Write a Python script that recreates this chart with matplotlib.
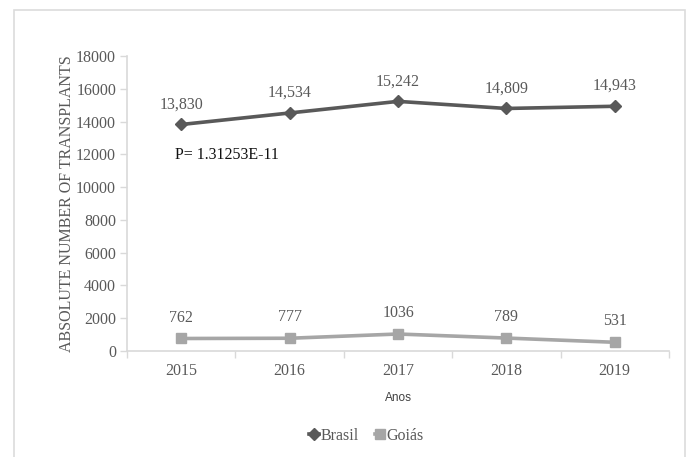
import matplotlib
matplotlib.use("Agg")
import matplotlib.pyplot as plt
from matplotlib.patches import Rectangle
from matplotlib.lines import Line2D

years = ["2015", "2016", "2017", "2018", "2019"]
brasil = [13830, 14534, 15242, 14809, 14943]
goias = [762, 777, 1036, 789, 531]
brasil_labels = ["13,830", "14,534", "15,242", "14,809", "14,943"]
goias_labels = ["762", "777", "1036", "789", "531"]
yticks = [0, 2000, 4000, 6000, 8000, 10000, 12000, 14000, 16000, 18000]

serif = "Liberation Serif"
tick_col = "#595959"
axis_col = "#d9d9d9"
c_brasil = "#595959"
c_goias = "#a6a6a6"

fig = plt.figure(figsize=(6.91, 4.57), dpi=100)
ax = fig.add_axes([0.184, 0.232, 0.784, 0.645])

# outer chart frame
fig.patches.append(Rectangle((14 / 691, -0.05), (685 - 14) / 691, 1.05 - 10 / 457,
                             transform=fig.transFigure, fill=False,
                             edgecolor="#dcdcdc", linewidth=1.2))

x = list(range(len(years)))
ax.plot(x, brasil, color=c_brasil, linewidth=2.6, marker="D", markersize=6.5,
        markeredgecolor=c_brasil, label="Brasil", zorder=3)
ax.plot(x, goias, color=c_goias, linewidth=2.6, marker="s", markersize=7.5,
        markeredgecolor=c_goias, label="Goiás", zorder=3)

for xi, v, t in zip(x, brasil, brasil_labels):
    ax.annotate(t, (xi, v), xytext=(0, 14.5), textcoords="offset points",
                ha="center", va="center", fontsize=11.5, family=serif, color=tick_col)
for xi, v, t in zip(x, goias, goias_labels):
    ax.annotate(t, (xi, v), xytext=(0, 15), textcoords="offset points",
                ha="center", va="center", fontsize=11.5, family=serif, color=tick_col)

ax.text(0.089, 0.664, "P= 1.31253E-11", transform=ax.transAxes, ha="left",
        va="center", fontsize=11.5, family=serif, color="#111111")

ax.set_xlim(-0.5, len(years) - 0.5)
ax.set_ylim(0, 18000)
ax.set_yticks(yticks)
ax.set_yticklabels([str(v) for v in yticks], family=serif, fontsize=11.5, color=tick_col)
ax.set_xticks(x)
ax.set_xticklabels(years, family=serif, fontsize=11.5, color=tick_col)
ax.set_xticks([i - 0.5 for i in range(len(years) + 1)], minor=True)
ax.tick_params(axis="x", which="major", length=0, pad=9)
ax.tick_params(axis="x", which="minor", length=5, color=axis_col, width=1)
ax.tick_params(axis="y", length=5, color=axis_col, width=1, pad=3)

for s in ["top", "right"]:
    ax.spines[s].set_visible(False)
for s in ["left", "bottom"]:
    ax.spines[s].set_color(axis_col)
    ax.spines[s].set_linewidth(1.2)

ax.set_ylabel("ABSOLUTE NUMBER OF TRANSPLANTS", family=serif, fontsize=11.5,
              color=tick_col, labelpad=1)
ax.set_xlabel("Anos", family="Liberation Sans", fontsize=8.5, color="#404040", labelpad=9)

handles = [Line2D([0], [0], color=c_brasil, marker="D", markersize=6.5, linewidth=2.6),
           Line2D([0], [0], color=c_goias, marker="s", markersize=7.5, linewidth=2.6)]
leg = fig.legend(handles, ["Brasil", "Goiás"], loc="center", bbox_to_anchor=(0.53, 0.046),
                 ncol=2, frameon=False, handlelength=0.6, handletextpad=0.1,
                 columnspacing=1.0, prop={"family": serif, "size": 11.5})
for t in leg.get_texts():
    t.set_color(tick_col)

fig.savefig("out.png", dpi=100, facecolor="white")
